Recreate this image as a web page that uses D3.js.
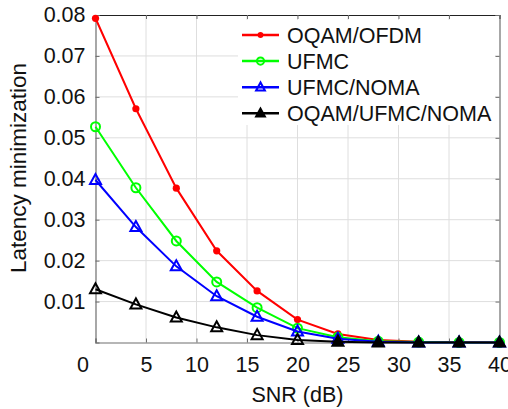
<!DOCTYPE html>
<html><head><meta charset="utf-8">
<script src="https://cdn.jsdelivr.net/npm/d3@7"></script>
<style>body{margin:0;background:#fff}svg{display:block;font-family:"Liberation Sans",Arial,sans-serif}</style>
</head><body>
<svg id="c" width="508" height="409"></svg>
<script>
const snr = [0, 4, 8, 12, 16, 20, 24, 28, 32, 36, 40];
const oqamOfdm = [0.0792, 0.0571, 0.0377, 0.0224, 0.0126, 0.0056, 0.0021, 0.0006, 0.0002, 0.0001, 0.0];
const ufmc = [0.0527, 0.0378, 0.0248, 0.0148, 0.0085, 0.0035, 0.0013, 0.0003, 0.0001, 0.0, 0.0];
const ufmcNoma = [0.0397, 0.0282, 0.0186, 0.0113, 0.0063, 0.0027, 0.0009, 0.0002, 0.0, 0.0, 0.0];
const oqamUfmcNoma = [0.0130, 0.0093, 0.0061, 0.0037, 0.0018, 0.0006, 0.0002, 0.0, 0.0, 0.0, 0.0];
const seriesNames = ["OQAM/OFDM", "UFMC", "UFMC/NOMA", "OQAM/UFMC/NOMA"];
const xTicks = [0, 5, 10, 15, 20, 25, 30, 35, 40];
const yTicks = [0.01, 0.02, 0.03, 0.04, 0.05, 0.06, 0.07, 0.08];
const xTitle = "SNR (dB)";
const yTitle = "Latency minimization";

const series = [
  {name: seriesNames[0], values: oqamOfdm, color: "#ff0000", marker: "dot"},
  {name: seriesNames[1], values: ufmc, color: "#00ff00", marker: "circle"},
  {name: seriesNames[2], values: ufmcNoma, color: "#0000ff", marker: "tri"},
  {name: seriesNames[3], values: oqamUfmcNoma, color: "#000000", marker: "tri", solidNearZero: true}
];

const L = 95.5, R = 499.5, T = 15, B = 342.5;
const svg = d3.select("#c");
const x = d3.scaleLinear().domain([0, 40]).range([L, R]);
const y = d3.scaleLinear().domain([0, 0.08]).range([B, T]);
const FS = 21;

// grid
const g = svg.append("g");
g.selectAll(".vg").data(xTicks.filter(d => d > 0 && d < 40)).enter().append("line")
  .attr("x1", d => x(d)).attr("x2", d => x(d)).attr("y1", T).attr("y2", B)
  .attr("stroke", "#dedede").attr("stroke-width", 1);
g.selectAll(".hg").data(yTicks.filter(d => d < 0.08)).enter().append("line")
  .attr("x1", L).attr("x2", R).attr("y1", d => y(d)).attr("y2", d => y(d))
  .attr("stroke", "#dedede").attr("stroke-width", 1);

// axes (ticks inside)
const xAxis = svg.append("g").attr("transform", `translate(0,${B})`)
  .call(d3.axisBottom(x).tickValues(xTicks).tickSize(-4).tickPadding(14).tickFormat(d3.format("d")));
const xTop = svg.append("g").attr("transform", `translate(0,${T})`)
  .call(d3.axisTop(x).tickValues(xTicks).tickSize(-4).tickFormat(""));
const yAxis = svg.append("g").attr("transform", `translate(${L},0)`)
  .call(d3.axisLeft(y).tickValues(yTicks).tickSize(-4).tickPadding(10).tickFormat(d3.format(".2f")));
const yRight = svg.append("g").attr("transform", `translate(${R},0)`)
  .call(d3.axisRight(y).tickValues(yTicks).tickSize(-4).tickFormat(""));
[xAxis, xTop, yAxis, yRight].forEach(a => {
  a.select(".domain").attr("stroke", "#6e6e6e").attr("stroke-width", 1.2);
  a.selectAll(".tick line").attr("stroke", "#6e6e6e");
  a.selectAll("text").attr("font-size", 21.5).attr("fill", "#111").attr("font-family", "Liberation Sans, Arial, sans-serif");
});
xTop.select(".domain").attr("stroke", "#222");
xAxis.selectAll(".tick text").filter(d => d === 0).attr("dx", -13);
xAxis.selectAll(".tick text").attr("dy", "0.71em");

// titles
svg.append("text").attr("x", (L + R) / 2).attr("y", 402).attr("text-anchor", "middle")
  .attr("font-size", 21.5).attr("fill", "#111").text(xTitle);
svg.append("text").attr("transform", "translate(26,168) rotate(-90)").attr("text-anchor", "middle")
  .attr("font-size", 22.5).attr("fill", "#111").text(yTitle);

function drawMarker(sel, s, cx, cy, size, solid) {
  if (s.marker === "dot") {
    sel.append("circle").attr("cx", cx).attr("cy", cy).attr("r", size * 0.36).attr("fill", s.color);
  } else if (s.marker === "circle") {
    sel.append("circle").attr("cx", cx).attr("cy", cy).attr("r", size * 0.45)
      .attr("fill", "none").attr("stroke", s.color).attr("stroke-width", 2);
  } else {
    const h = size;
    const p = [[cx, cy - h * 0.6], [cx - h * 0.55, cy + h * 0.4], [cx + h * 0.55, cy + h * 0.4]];
    sel.append("path").attr("d", "M" + p.map(q => q.join(",")).join("L") + "Z")
      .attr("fill", solid ? s.color : "none").attr("stroke", s.color).attr("stroke-width", 2).attr("stroke-linejoin", "miter");
  }
}

const line = d3.line().x((d, i) => x(snr[i])).y(d => y(d));
series.forEach(s => {
  const gs = svg.append("g");
  gs.append("path").attr("d", line(s.values)).attr("fill", "none")
    .attr("stroke", s.color).attr("stroke-width", 2);
  s.values.forEach((v, i) => drawMarker(gs, s, x(snr[i]), y(v), 10, s.solidNearZero && v <= 0.0002));
});

// legend
const lg = svg.append("g");
lg.append("rect").attr("x", 238).attr("y", 20).attr("width", 257).attr("height", 105).attr("fill", "#fff");
series.forEach((s, i) => {
  const yy = 35 + i * 26.1;
  lg.append("line").attr("x1", 242).attr("x2", 279).attr("y1", yy).attr("y2", yy)
    .attr("stroke", s.color).attr("stroke-width", 2.5);
  drawMarker(lg, s, 260.5, yy, 8, s.solidNearZero);
  lg.append("text").attr("x", 287).attr("y", yy).attr("dy", "0.36em")
    .attr("font-size", 21.5).attr("fill", "#111").text(s.name);
});
</script>
</body></html>
